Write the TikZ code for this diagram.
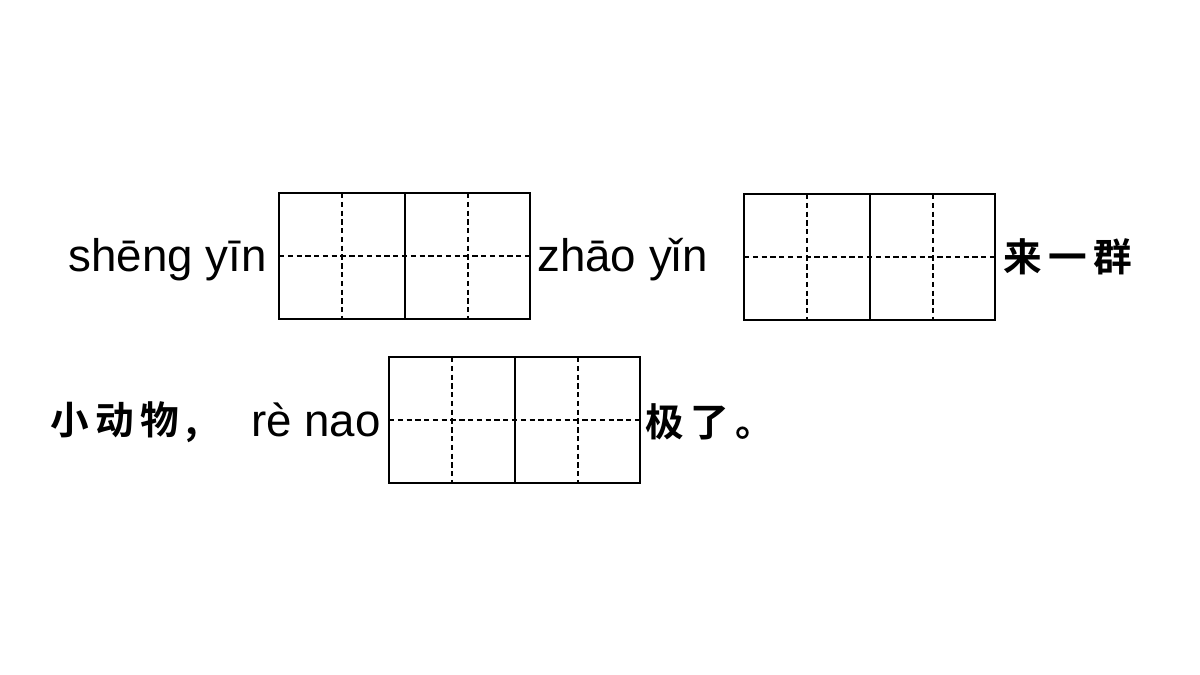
\documentclass[tikz,border=0pt]{standalone}
\usepackage{fontspec}
\setmainfont{Liberation Sans}
\newfontfamily\cjk{Noto Sans CJK SC Bold}
\begin{document}
\begin{tikzpicture}[x=0.02cm,y=-0.02cm,
 py/.style={font=\fontsize{26}{30}\selectfont,inner sep=0pt},
 hz/.style={font=\cjk\fontsize{22}{26}\selectfont,inner sep=0pt},
 grid/.style={line width=1.3pt},
 dl/.style={dashed,line width=0.6pt,dash pattern=on 3pt off 2pt}]
\useasboundingbox[fill=white] (0,0) rectangle (1200,675);
\newcommand\tianbox[3]{%
 \draw[dl] (#1,#2+63) -- (#1+251,#2+63);
 \draw[dl] (#1+63,#2) -- (#1+63,#2+126);
 \draw[dl] (#1+189,#2) -- (#1+189,#2+126);
 \draw[line width=0.8pt] (#1+126,#2) -- (#1+126,#2+126);
 \draw[grid] (#1,#2) rectangle (#1+251,#2+126);
 \coordinate (#3) at (#1,#2);}
\tianbox{279}{193}{b1}
\tianbox{744}{194}{b2}
\tianbox{389}{357}{b3}
\node[py,anchor=base east] (t1) at (267,272) {shēng yīn};
\node[py,anchor=base west] (t2) at (537,272) {zhāo yǐn};
\node[hz,anchor=west] (t3) at (1003,257) {来\,一\,群};
\node[hz,anchor=west] (t4) at (50,422) {小\,动\,物\,,};
\node[py,anchor=base east] (t5) at (381,437) {rè nao};
\node[hz,anchor=west] (t6) at (645,422) {极\,了\,。};
\end{tikzpicture}
\end{document}
